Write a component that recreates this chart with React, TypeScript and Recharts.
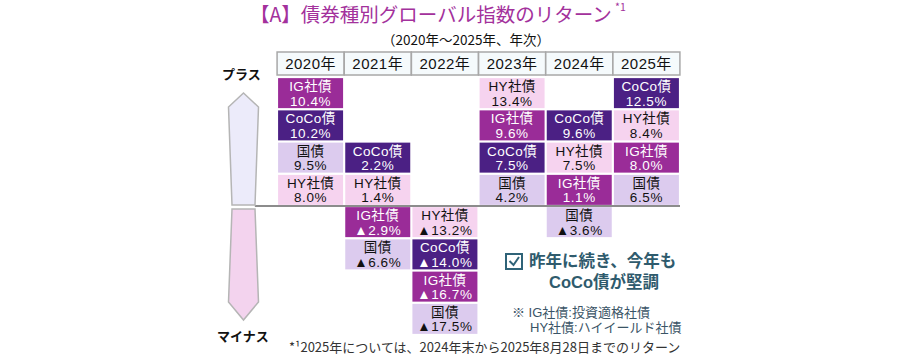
import { ScatterChart, Scatter, XAxis, YAxis, ReferenceLine } from "recharts";

// 年次リターン（%）
const years = ["2020年", "2021年", "2022年", "2023年", "2024年", "2025年"];
const igCorp = [10.4, -2.9, -16.7, 9.6, 1.1, 8.0];
const cocoBond = [10.2, 2.2, -14.0, 7.5, 9.6, 12.5];
const govBond = [9.5, -6.6, -17.5, 4.2, -3.6, 6.5];
const hyCorp = [8.0, 1.4, -13.2, 13.4, 7.5, 8.4];

const series = [
  { name: "IG社債", values: igCorp, fill: "#9a2c98", text: "#ffffff" },
  { name: "CoCo債", values: cocoBond, fill: "#4b2084", text: "#ffffff" },
  { name: "国債", values: govBond, fill: "#dccbee", text: "#111111" },
  { name: "HY社債", values: hyCorp, fill: "#f6d3ef", text: "#111111" },
];

// stack cells from the zero line: smallest gain / smallest loss nearest to it
const cells: any[] = [];
years.forEach((_, i) => {
  const items = series.map(s => ({ ...s, v: s.values[i] }));
  const pos = items.filter(d => d.v >= 0).sort((a, b) => a.v - b.v);
  const neg = items.filter(d => d.v < 0).sort((a, b) => b.v - a.v);
  pos.forEach((d, k) => cells.push({ x: i, y: k + 0.5, name: d.name, v: d.v, fill: d.fill, text: d.text }));
  neg.forEach((d, k) => cells.push({ x: i, y: -(k + 0.5), name: d.name, v: d.v, fill: d.fill, text: d.text }));
});

const FONT = '"Liberation Sans", "Noto Sans CJK JP", sans-serif';
const JP = '"Noto Sans CJK JP", sans-serif';

const fmt = (v: number) => (v < 0 ? "▲" + Math.abs(v).toFixed(1) : v.toFixed(1)) + "%";

const Cell = (props: any) => {
  const { cx, cy, payload } = props;
  const w = 65;
  const h = 30;
  return (
    <g>
      <rect x={cx - w / 2} y={cy - h / 2} width={w} height={h} fill={payload.fill} />
      <text x={cx} y={cy - 2} textAnchor="middle" fontSize={13.5} letterSpacing={0.4} fill={payload.text} fontFamily={FONT}>
        {payload.name}
      </text>
      <text x={cx} y={cy + 12.5} textAnchor="middle" fontSize={13.5} letterSpacing={0.6} fill={payload.text} fontFamily={FONT}>
        {fmt(payload.v)}
      </text>
    </g>
  );
};

const YearTick = (props: any) => {
  const { x, y, payload } = props;
  return (
    <g>
      <rect x={x - 33.5} y={y - 25} width={67} height={23} fill="#f5fafc" stroke="#a8a8a8" strokeWidth={1.5} />
      <text x={x} y={y - 8} textAnchor="middle" fontSize={15} letterSpacing={0.5} fill="#111" fontFamily={FONT}>
        {years[payload.value]}
      </text>
    </g>
  );
};

const line = (left: number, top: number, size: number, color: string, extra: any = {}) => ({
  position: "absolute" as const,
  left,
  top,
  fontSize: size,
  color,
  whiteSpace: "nowrap" as const,
  lineHeight: 1.2,
  ...extra,
});

export default function App() {
  return (
    <div style={{ position: "absolute", left: 0, top: 0, width: 900, height: 360, background: "#fff", fontFamily: JP }}>
      <div style={line(250, 2, 19.5, "#a3319c")}>【A】債券種別グローバル指数のリターン</div>
      <div style={line(615, 1, 10.5, "#a3319c")}>*1</div>
      <div style={line(382, 31, 13.5, "#111")}>（2020年～2025年、年次）</div>

      <ScatterChart width={900} height={360} margin={{ top: 52, right: 220, bottom: 25, left: 277 }} style={{ position: "absolute", left: 0, top: 0 }}>
        <XAxis
          type="number"
          dataKey="x"
          orientation="top"
          domain={[-0.5, 5.5]}
          ticks={[0, 1, 2, 3, 4, 5]}
          interval={0}
          height={25}
          axisLine={false}
          tickLine={false}
          tickSize={0}
          tickMargin={0}
          tick={<YearTick />}
        />
        <YAxis type="number" dataKey="y" domain={[-4, 4]} hide />
        <ReferenceLine
          segment={[{ x: -0.83, y: 0 }, { x: 5.5, y: 0 }]}
          stroke="#8c8c8c"
          strokeWidth={2}
          ifOverflow="visible"
        />
        <Scatter data={cells} shape={<Cell />} isAnimationActive={false} />
      </ScatterChart>

      <svg width={900} height={360} style={{ position: "absolute", left: 0, top: 0, pointerEvents: "none" }}>
        <polygon points="243.5,93 258.5,107 255,205 232,205 228.5,107" fill="#ecebfa" stroke="#b5b5b5" strokeWidth={1.5} />
        <polygon points="232,209 255,209 258.5,302 243.5,320 228.5,302" fill="#f3d3ee" stroke="#b5b5b5" strokeWidth={1.5} />
        <rect x={506} y={254} width={16} height={15} fill="#fff" stroke="#2f6378" strokeWidth={2} />
        <polyline points="509.5,261 513.5,265 519,257" fill="none" stroke="#2f6378" strokeWidth={2} />
      </svg>

      <div style={line(222, 66, 13, "#111", { fontWeight: 700 })}>プラス</div>
      <div style={line(217, 328, 13, "#111", { fontWeight: 700 })}>マイナス</div>

      <div style={line(529, 251, 16.5, "#2f5b6d", { fontFamily: FONT, fontWeight: 700, lineHeight: "20px" })}>昨年に続き、今年も</div>
      <div style={line(529, 272, 16.5, "#2f5b6d", { fontFamily: FONT, fontWeight: 700, lineHeight: "20px", width: 150, textAlign: "center" })}>CoCo債が堅調</div>

      <div style={line(512, 305, 13, "#3a5466", { fontFamily: FONT, lineHeight: "15px" })}>※ IG社債:投資適格社債</div>
      <div style={line(530, 320, 13, "#3a5466", { fontFamily: FONT, lineHeight: "15px" })}>HY社債:ハイイールド社債</div>

      <div style={line(289, 339, 13, "#333")}>*¹2025年については、2024年末から2025年8月28日までのリターン</div>
    </div>
  );
}
